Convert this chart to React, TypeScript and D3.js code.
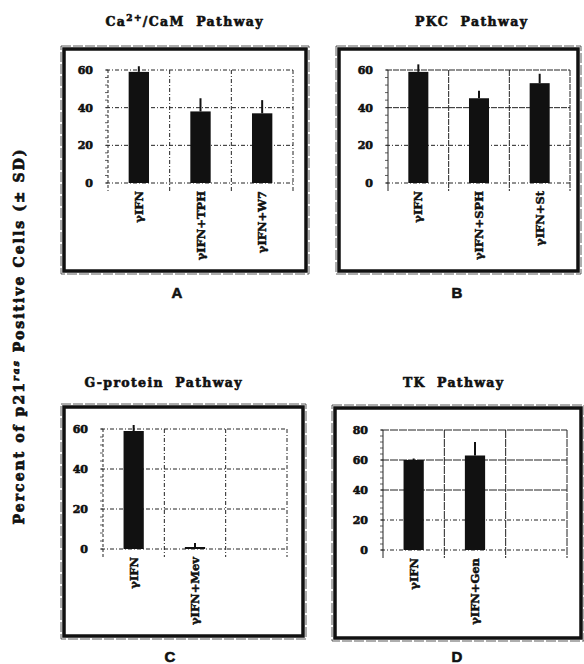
import React, { useEffect, useRef } from "react";
import * as d3 from "d3";

// values
const categoriesA = ["γIFN", "γIFN+TPH", "γIFN+W7"];
const valuesA = [59, 38, 37];
const sdA = [3, 7, 7];

const categoriesB = ["γIFN", "γIFN+SPH", "γIFN+St"];
const valuesB = [59, 45, 53];
const sdB = [4, 4, 5];

const categoriesC = ["γIFN", "γIFN+Mev", ""];
const valuesC = [59, 1];
const sdC = [3, 2];

const categoriesD = ["γIFN", "γIFN+Gen", ""];
const valuesD = [60, 63];
const sdD = [1, 9];

const ticks60 = [0, 20, 40, 60];
const ticks80 = [0, 20, 40, 60, 80];

const serif = "DejaVu Serif";
const sans = "Liberation Sans";

const panels = [
  {
    title: "Ca", sup: "2+", rest: "/CaM  Pathway", titleX: 184, titleY: 26, titleLen: 157,
    letter: "A", letterX: 177, letterY: 298,
    box: { x: 62, y: 47, w: 246, h: 226 },
    plot: { x0: 108, x1: 293, y0: 183, y1: 70 },
    yMax: 60, ticks: ticks60, cats: categoriesA, vals: valuesA, sd: sdA, dash: "4,2,1,2",
  },
  {
    title: "PKC  Pathway", sup: "", rest: "", titleX: 471, titleY: 26, titleLen: 112,
    letter: "B", letterX: 457, letterY: 298,
    box: { x: 337, y: 47, w: 243, h: 226 },
    plot: { x0: 388, x1: 570, y0: 183, y1: 70 },
    yMax: 60, ticks: ticks60, cats: categoriesB, vals: valuesB, sd: sdB, dash: "6,1",
  },
  {
    title: "G-protein  Pathway", sup: "", rest: "", titleX: 163, titleY: 387, titleLen: 157,
    letter: "C", letterX: 170, letterY: 662,
    box: { x: 62, y: 405, w: 243, h: 233 },
    plot: { x0: 103, x1: 287, y0: 549, y1: 429 },
    yMax: 60, ticks: ticks60, cats: categoriesC, vals: valuesC, sd: sdC, dash: "4,2,1,2",
  },
  {
    title: "TK  Pathway", sup: "", rest: "", titleX: 453, titleY: 387, titleLen: 100,
    letter: "D", letterX: 457, letterY: 662,
    box: { x: 333, y: 406, w: 250, h: 234 },
    plot: { x0: 383, x1: 567, y0: 550, y1: 430 },
    yMax: 80, ticks: ticks80, cats: categoriesD, vals: valuesD, sd: sdD, dash: "8,1",
  },
];

// scanned print is very heavy, so fatten text a bit with a stroke
const heavy = (sel, w = 0.6) => sel.attr("fill", "#111").attr("stroke", "#111").attr("stroke-width", w);

const App = () => {
  const svgRef = useRef(null);

  useEffect(() => {
    const svg = d3.select(svgRef.current);
    svg.selectAll("*").remove();
    svg.append("rect").attr("width", 584).attr("height", 664).attr("fill", "#fff");

    // shared y label
    const yl = svg
      .append("text")
      .attr("transform", "translate(24,337) rotate(-90)")
      .attr("text-anchor", "middle")
      .attr("font-family", serif)
      .attr("font-weight", "bold")
      .attr("font-size", 14)
      .attr("textLength", 375)
      .attr("lengthAdjust", "spacing")
      .call(heavy, 0.7);
    yl.append("tspan").text("Percent of p21");
    yl.append("tspan").attr("font-size", 9).attr("font-style", "italic").attr("dy", -5).text("ras");
    yl.append("tspan").attr("dy", 5).text(" Positive Cells (± SD)");

    panels.forEach((p) => {
      const g = svg.append("g");

      // double frame
      g.append("rect")
        .attr("x", p.box.x - 1).attr("y", p.box.y - 1)
        .attr("width", p.box.w + 2).attr("height", p.box.h + 2)
        .attr("fill", "none").attr("stroke", "#333").attr("stroke-width", 0.8)
        .attr("stroke-dasharray", "10,2");
      g.append("rect")
        .attr("x", p.box.x + 2).attr("y", p.box.y + 2)
        .attr("width", p.box.w - 4).attr("height", p.box.h - 4)
        .attr("fill", "none").attr("stroke", "#111").attr("stroke-width", 3.5);

      // title
      const t = g.append("text")
        .attr("x", p.titleX).attr("y", p.titleY)
        .attr("text-anchor", "middle")
        .attr("font-family", serif).attr("font-weight", "bold").attr("font-size", 12.5)
        .attr("textLength", p.titleLen).attr("lengthAdjust", "spacing")
        .style("white-space", "pre")
        .call(heavy, 0.6);
      t.append("tspan").text(p.title);
      if (p.sup) {
        t.append("tspan").attr("font-size", 9).attr("dy", -5).text(p.sup);
        t.append("tspan").attr("dy", 5).text(p.rest);
      }

      g.append("text")
        .attr("x", p.letterX).attr("y", p.letterY)
        .attr("text-anchor", "middle")
        .attr("font-family", sans).attr("font-weight", "bold").attr("font-size", 15)
        .call(heavy, 0.6)
        .text(p.letter);

      const y = d3.scaleLinear().domain([0, p.yMax]).range([p.plot.y0, p.plot.y1]);
      const x = d3.scaleBand().domain(p.cats.map((_, i) => String(i))).range([p.plot.x0, p.plot.x1]);
      const bw = x.bandwidth() * 0.33;

      // horizontal grid
      g.selectAll(".hgrid")
        .data(p.ticks)
        .join("line")
        .attr("x1", p.plot.x0 - 2).attr("x2", p.plot.x1)
        .attr("y1", (d) => y(d)).attr("y2", (d) => y(d))
        .attr("stroke", "#222").attr("stroke-width", 1)
        .attr("stroke-dasharray", (d) => (d === 20 || d === 0 ? "4,2,1,2" : p.dash));

      // vertical grid at band edges
      const edges = p.cats.map((_, i) => x(String(i))).concat([p.plot.x1]);
      g.selectAll(".vgrid")
        .data(edges.slice(1))
        .join("line")
        .attr("x1", (d) => d).attr("x2", (d) => d)
        .attr("y1", p.plot.y1).attr("y2", p.plot.y0 + 8)
        .attr("stroke", "#222").attr("stroke-width", 1)
        .attr("stroke-dasharray", p.dash);

      // y axis with minor ticks
      g.append("line")
        .attr("x1", p.plot.x0).attr("x2", p.plot.x0)
        .attr("y1", p.plot.y1).attr("y2", p.plot.y0 + 8)
        .attr("stroke", "#222").attr("stroke-width", 1)
        .attr("stroke-dasharray", p.dash === "4,2,1,2" ? "3,2" : null);
      const minor = d3.range(0, p.yMax + 0.1, 4);
      g.selectAll(".minor")
        .data(minor)
        .join("line")
        .attr("x1", p.plot.x0 - 3).attr("x2", p.plot.x0)
        .attr("y1", (d) => y(d)).attr("y2", (d) => y(d))
        .attr("stroke", "#333").attr("stroke-width", 0.8);

      g.selectAll(".ylab")
        .data(p.ticks)
        .join("text")
        .attr("x", p.plot.x0 - 15).attr("y", (d) => y(d))
        .attr("dy", "0.36em")
        .attr("text-anchor", "end")
        .attr("font-family", serif).attr("font-weight", "bold").attr("font-size", 11)
        .call(heavy, 0.6)
        .text((d) => d);

      // bars
      g.selectAll(".bar")
        .data(p.vals)
        .join("rect")
        .attr("x", (_, i) => x(String(i)) + x.bandwidth() / 2 - bw / 2)
        .attr("y", (d) => y(d))
        .attr("width", bw)
        .attr("height", (d) => p.plot.y0 - y(d))
        .attr("fill", "#111");

      // error bars (upper only)
      g.selectAll(".err")
        .data(p.vals)
        .join("line")
        .attr("x1", (_, i) => x(String(i)) + x.bandwidth() / 2)
        .attr("x2", (_, i) => x(String(i)) + x.bandwidth() / 2)
        .attr("y1", (d) => y(d))
        .attr("y2", (d, i) => y(d + p.sd[i]))
        .attr("stroke", "#111").attr("stroke-width", 2);

      // rotated category labels
      g.selectAll(".xlab")
        .data(p.cats)
        .join("text")
        .attr("transform", (_, i) => `translate(${x(String(i)) + x.bandwidth() / 2},${p.plot.y0 + 8}) rotate(-90)`)
        .attr("dy", "0.36em")
        .attr("text-anchor", "end")
        .attr("font-family", serif).attr("font-weight", "bold").attr("font-size", 11.5)
        .call(heavy, 0.5)
        .text((d) => d);
    });

    return () => {
      svg.selectAll("*").remove();
    };
  }, []);

  return (
    <svg
      ref={svgRef}
      width={584}
      height={664}
      style={{ position: "absolute", left: 0, top: 0, display: "block" }}
    ></svg>
  );
};

export default App;
